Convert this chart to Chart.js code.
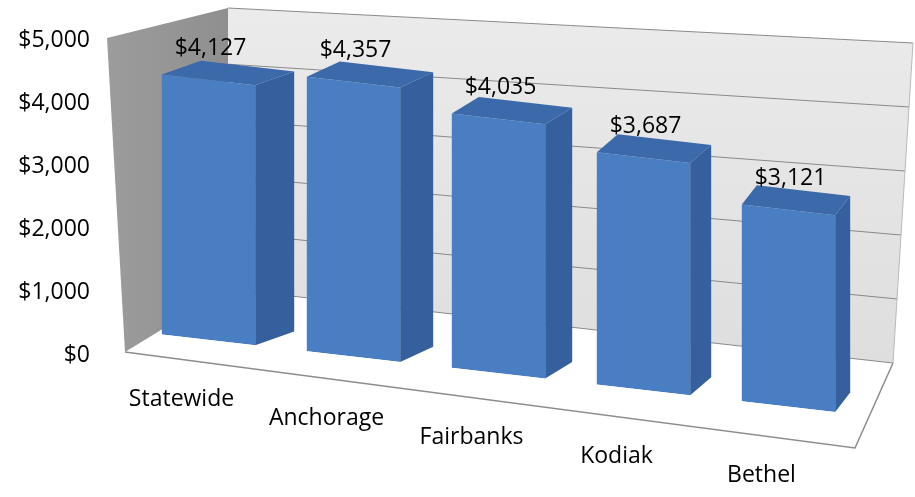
<!DOCTYPE html>
<html>
<head>
<meta charset="utf-8">
<script src="https://cdn.jsdelivr.net/npm/chart.js@4.4.1/dist/chart.umd.min.js"></script>
<style>
    html, body { margin: 0; padding: 0; background: #fff; }
    #wrap { width: 915px; height: 497px; }
</style>
</head>
<body>
<div id="wrap"><canvas id="cost-chart"></canvas></div>
<script>
const categories = ['Statewide', 'Anchorage', 'Fairbanks', 'Kodiak', 'Bethel'];
const costs = [4127, 4357, 4035, 3687, 3121];
const tickValues = [0, 1000, 2000, 3000, 4000, 5000];

const FONT = '"Open Sans", "DejaVu Sans", sans-serif';
const SHEAR = 0.115;   // tilt of the bar fronts
const LIFT = -23.5;

const money = (v) => '$' + v.toLocaleString('en-US');

function proj(area, x, y) {
    return [x, y + SHEAR * (x - area.left) + LIFT];
}

function depth(area, x) {
    let t = (x - area.left) / (area.right - area.left);
    t = Math.max(0, Math.min(1, t));
    return [42 - 30 * t, -13 - 7 * t];
}

function poly(ctx, pts, fill) {
    ctx.beginPath();
    ctx.moveTo(pts[0][0], pts[0][1]);
    for (let i = 1; i < pts.length; i++) ctx.lineTo(pts[i][0], pts[i][1]);
    ctx.closePath();
    ctx.fillStyle = fill;
    ctx.fill();
}

const lerp = (a, b, t) => a + (b - a) * t;

const box3d = {
    id: 'box3d',
    beforeDatasetsDraw(chart) {
        const { ctx, chartArea: a, scales: { y } } = chart;
        const y0 = y.getPixelForValue(0);
        const yT = y.getPixelForValue(y.max);

        // back wall corners
        const bl = { x: a.left + 92, top: yT - 32, bot: y0 - 66 };
        const br = { xt: a.right + 52, top: yT + 3, xb: a.right + 32, bot: y0 + 8 };
        // left wall front edge
        const lf = { xt: a.left - 29, top: yT - 2, xb: a.left - 11, bot: y0 - 3 };
        const floorFR = [a.right - 6, y0 + 93];

        ctx.save();
        // back wall
        let g = ctx.createLinearGradient(0, bl.top, 0, br.bot);
        g.addColorStop(0, '#ebebeb');
        g.addColorStop(1, '#dedede');
        poly(ctx, [[bl.x, bl.top], [br.xt, br.top], [br.xb, br.bot], [bl.x, bl.bot]], g);

        // floor
        poly(ctx, [[lf.xb, lf.bot], [bl.x, bl.bot], [br.xb, br.bot], floorFR], '#ffffff');

        // grid lines on back wall
        ctx.strokeStyle = '#8a8a8a';
        ctx.lineWidth = 1;
        y.ticks.forEach((tk) => {
            const t = (y0 - y.getPixelForValue(tk.value)) / (y0 - yT);
            ctx.beginPath();
            ctx.moveTo(bl.x, lerp(bl.bot, bl.top, t));
            ctx.lineTo(lerp(br.xb, br.xt, t), lerp(br.bot, br.top, t));
            ctx.stroke();
        });
        ctx.strokeStyle = '#b8b8b8';
        ctx.beginPath();
        ctx.moveTo(br.xt, br.top);
        ctx.lineTo(br.xb, br.bot);
        ctx.stroke();

        // floor edges
        ctx.strokeStyle = '#8c8c8c';
        ctx.lineWidth = 1.5;
        ctx.beginPath();
        ctx.moveTo(lf.xb, lf.bot);
        ctx.lineTo(floorFR[0], floorFR[1]);
        ctx.lineTo(br.xb, br.bot);
        ctx.stroke();

        // left wall
        g = ctx.createLinearGradient(lf.xt, 0, bl.x, 0);
        g.addColorStop(0, '#9c9c9c');
        g.addColorStop(1, '#8f8f8f');
        poly(ctx, [[lf.xt, lf.top], [bl.x, bl.top], [bl.x, bl.bot], [lf.xb, lf.bot]], g);
        ctx.restore();

        chart.$floor = { x1: lf.xb, y1: lf.bot, x2: floorFR[0], y2: floorFR[1] };

        // bar fronts are drawn by Chart.js on the tilted floor
        ctx.save();
        ctx.transform(1, SHEAR, 0, 1, 0, LIFT - SHEAR * a.left);
    },
    afterDatasetsDraw(chart) {
        const { ctx, chartArea: a } = chart;
        ctx.restore();
        const meta = chart.getDatasetMeta(0);
        const fl = chart.$floor;

        ctx.save();
        meta.data.forEach((bar, i) => {
            const { x, y, base, width } = bar.getProps(['x', 'y', 'base', 'width'], true);
            const xl = x - width / 2, xr = x + width / 2;
            const [dx, dy] = depth(a, x);
            const tl = proj(a, xl, y), tr = proj(a, xr, y), brp = proj(a, xr, base);
            poly(ctx, [tr, brp, [brp[0] + dx, brp[1] + dy], [tr[0] + dx, tr[1] + dy]], '#36609d');
            poly(ctx, [tl, tr, [tr[0] + dx, tr[1] + dy], [tl[0] + dx, tl[1] + dy]], '#3b69a9');

            // value label
            ctx.fillStyle = '#000';
            ctx.font = '23px ' + FONT;
            ctx.textAlign = 'center';
            ctx.textBaseline = 'middle';
            ctx.fillText(money(costs[i]), x + 2, tl[1] - 26);

            // category label along the floor edge
            const lx = x - 27;
            const ly = fl.y1 + (fl.y2 - fl.y1) * (lx - fl.x1) / (fl.x2 - fl.x1) + 40;
            ctx.fillText(categories[i], lx, ly);
        });
        ctx.restore();
    }
};

new Chart(document.getElementById('cost-chart'), {
    type: 'bar',
    data: {
        labels: categories,
        datasets: [{
            data: costs,
            backgroundColor: '#4a7ec3',
            borderWidth: 0,
            categoryPercentage: 1,
            barPercentage: 0.644
        }]
    },
    options: {
        responsive: true,
        maintainAspectRatio: false,
        animation: false,
        layout: { padding: { left: 18, right: 54, top: 40, bottom: 142 } },
        scales: {
            x: { display: false },
            y: {
                min: 0,
                max: 5000,
                afterBuildTicks: (scale) => { scale.ticks = tickValues.map((v) => ({ value: v })); },
                afterFit: (scale) => {
                    scale.width = 118;
                    scale.paddingTop = 0;
                    scale.paddingBottom = 0;
                },
                grid: { display: false, drawTicks: false },
                border: { display: false },
                ticks: {
                    padding: 46,
                    color: '#000',
                    font: { family: FONT, size: 23 },
                    callback: (value) => money(value)
                }
            }
        },
        plugins: {
            legend: { display: false },
            tooltip: { enabled: false }
        }
    },
    plugins: [box3d]
});
</script>
</body>
</html>
